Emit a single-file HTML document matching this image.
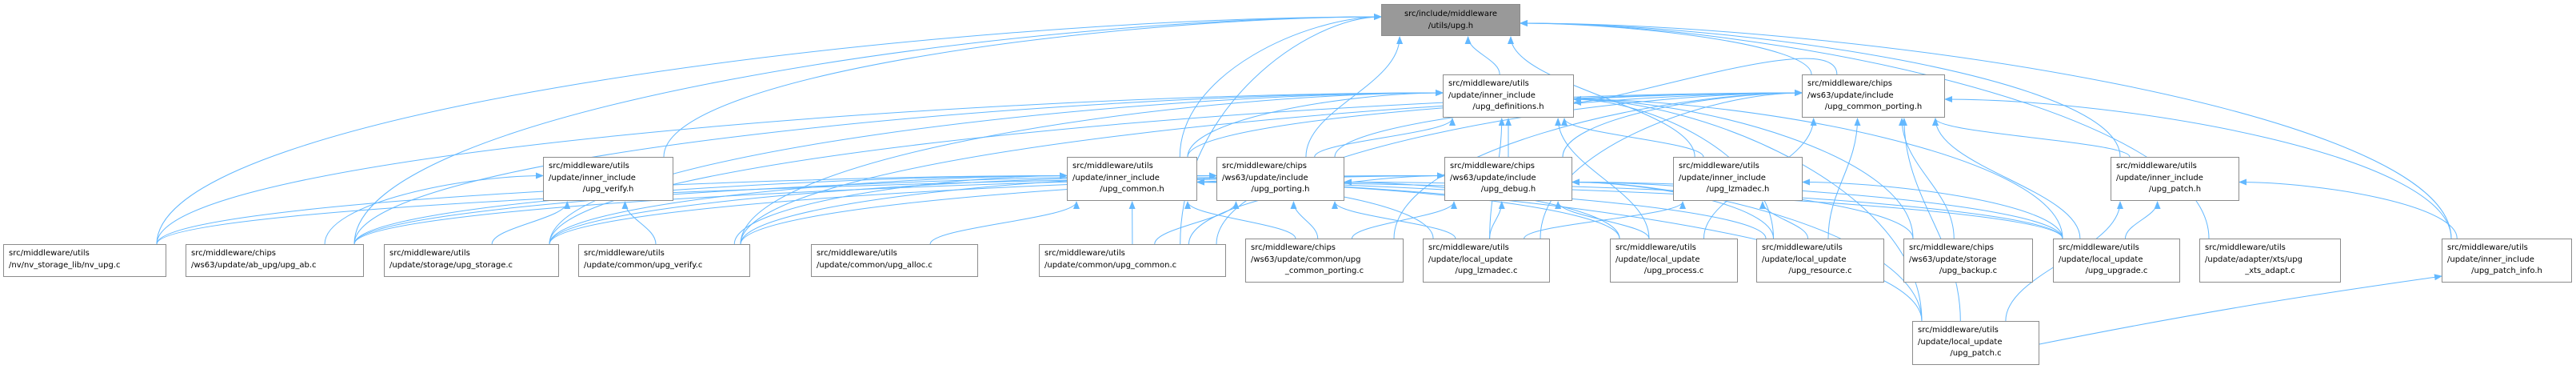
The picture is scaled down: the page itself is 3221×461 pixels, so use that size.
<!DOCTYPE html>
<html><head><meta charset="utf-8"><style>
html,body{margin:0;padding:0;background:#fff;}
#wrap{position:relative;width:3221px;height:461px;overflow:hidden;}
svg{position:absolute;left:0;top:0;}
.n{position:absolute;box-sizing:border-box;border:1px solid #8c8c8c;background:#fff;font-family:"DejaVu Sans","Liberation Sans",sans-serif;font-size:10px;line-height:14.6px;color:#000;padding:4px 6px 0 6px;white-space:nowrap;}
.n div{text-align:left;}
.n div.c{text-align:center;}
.g{background:#999;}
</style></head><body><div id="wrap">
<svg id="s" width="3221" height="461" xmlns="http://www.w3.org/2000/svg">
<defs><marker id="a" markerWidth="10" markerHeight="8" refX="9" refY="4" orient="auto" markerUnits="userSpaceOnUse"><path d="M0,0 L10,4 L0,8 z" fill="#63b8ff"/></marker></defs>
<g id="e" fill="none" stroke="#63b8ff" stroke-width="1"></g>
</svg>
<div class="n g" style="left:1727px;top:5px;width:174px;height:40px;padding-top:5px"><div class="c">src/include/middleware</div><div class="c">/utils/upg.h</div></div>
<div class="n" style="left:1804px;top:93px;width:164px;height:54px"><div>src/middleware/utils</div><div>/update/inner_include</div><div class="c">/upg_definitions.h</div></div>
<div class="n" style="left:2253px;top:93px;width:179px;height:54px"><div>src/middleware/chips</div><div>/ws63/update/include</div><div class="c">/upg_common_porting.h</div></div>
<div class="n" style="left:679px;top:196px;width:163px;height:55px"><div>src/middleware/utils</div><div>/update/inner_include</div><div class="c">/upg_verify.h</div></div>
<div class="n" style="left:1334px;top:196px;width:163px;height:55px"><div>src/middleware/utils</div><div>/update/inner_include</div><div class="c">/upg_common.h</div></div>
<div class="n" style="left:1521px;top:196px;width:160px;height:55px"><div>src/middleware/chips</div><div>/ws63/update/include</div><div class="c">/upg_porting.h</div></div>
<div class="n" style="left:1806px;top:196px;width:160px;height:55px"><div>src/middleware/chips</div><div>/ws63/update/include</div><div class="c">/upg_debug.h</div></div>
<div class="n" style="left:2092px;top:196px;width:162px;height:55px"><div>src/middleware/utils</div><div>/update/inner_include</div><div class="c">/upg_lzmadec.h</div></div>
<div class="n" style="left:2639px;top:196px;width:161px;height:55px"><div>src/middleware/utils</div><div>/update/inner_include</div><div class="c">/upg_patch.h</div></div>
<div class="n" style="left:4px;top:305px;width:204px;height:41px"><div>src/middleware/utils</div><div>/nv/nv_storage_lib/nv_upg.c</div></div>
<div class="n" style="left:232px;top:305px;width:223px;height:41px"><div>src/middleware/chips</div><div>/ws63/update/ab_upg/upg_ab.c</div></div>
<div class="n" style="left:480px;top:305px;width:219px;height:41px"><div>src/middleware/utils</div><div>/update/storage/upg_storage.c</div></div>
<div class="n" style="left:723px;top:305px;width:215px;height:41px"><div>src/middleware/utils</div><div>/update/common/upg_verify.c</div></div>
<div class="n" style="left:1014px;top:305px;width:209px;height:41px"><div>src/middleware/utils</div><div>/update/common/upg_alloc.c</div></div>
<div class="n" style="left:1299px;top:305px;width:234px;height:41px"><div>src/middleware/utils</div><div>/update/common/upg_common.c</div></div>
<div class="n" style="left:1557px;top:298px;width:198px;height:55px"><div>src/middleware/chips</div><div>/ws63/update/common/upg</div><div class="c">_common_porting.c</div></div>
<div class="n" style="left:1779px;top:298px;width:159px;height:55px"><div>src/middleware/utils</div><div>/update/local_update</div><div class="c">/upg_lzmadec.c</div></div>
<div class="n" style="left:2013px;top:298px;width:160px;height:55px"><div>src/middleware/utils</div><div>/update/local_update</div><div class="c">/upg_process.c</div></div>
<div class="n" style="left:2196px;top:298px;width:160px;height:55px"><div>src/middleware/utils</div><div>/update/local_update</div><div class="c">/upg_resource.c</div></div>
<div class="n" style="left:2380px;top:298px;width:162px;height:55px"><div>src/middleware/chips</div><div>/ws63/update/storage</div><div class="c">/upg_backup.c</div></div>
<div class="n" style="left:2567px;top:298px;width:159px;height:55px"><div>src/middleware/utils</div><div>/update/local_update</div><div class="c">/upg_upgrade.c</div></div>
<div class="n" style="left:2750px;top:298px;width:177px;height:55px"><div>src/middleware/utils</div><div>/update/adapter/xts/upg</div><div class="c">_xts_adapt.c</div></div>
<div class="n" style="left:3053px;top:298px;width:163px;height:55px"><div>src/middleware/utils</div><div>/update/inner_include</div><div class="c">/upg_patch_info.h</div></div>
<div class="n" style="left:2391px;top:401px;width:159px;height:55px"><div>src/middleware/utils</div><div>/update/local_update</div><div class="c">/upg_patch.c</div></div>
</div>
<script>
var N={upg:[1727,1901,5,45],defs:[1804,1968,93,147],cph:[2253,2432,93,147],vh:[679,842,196,251],ch:[1334,1497,196,251],ph:[1521,1681,196,251],dh:[1806,1966,196,251],lh:[2092,2254,196,251],pth:[2639,2800,196,251],
nv:[4,208,305,346],ab:[232,455,305,346],st:[480,699,305,346],vc:[723,938,305,346],al:[1014,1223,305,346],cc:[1299,1533,305,346],cpc:[1557,1755,298,353],lc:[1779,1938,298,353],pr:[2013,2173,298,353],rs:[2196,2356,298,353],bk:[2380,2542,298,353],ug:[2567,2726,298,353],xt:[2750,2927,298,353],pi:[3053,3216,298,353],pc:[2391,2550,401,456]};
var E={upg:"defs ch ph lh cph pth vh nv ab cc xt pi",
defs:"ch ph dh lh cph nv ab st vc pr rs ug bk lc pc",
cph:"ch ph dh pth st vc cc pr rs bk ug pc lc cpc pi",
ch:"nv ab st vc al cc cpc lc pr rs ug pc",
ph:"ab st vc cc cpc pr lc ug",
dh:"nv ab st vc cc cpc lc pr rs ug pc bk",
lh:"lc rs ug",vh:"ab st vc",pth:"ug pc pi",pi:"pc"};
var g=document.getElementById('e'),h='';
function cl(v,a,b){return Math.max(a,Math.min(b,v));}
for(var t in E){E[t].split(' ').forEach(function(s){var S=N[s],T=N[t];
var scx=(S[0]+S[1])/2,tcx=(T[0]+T[1])/2;
var sx,sy,tx,ty,d;
if(t=='pi'&&s=='pc'){sx=S[1];sy=430;tx=T[0];ty=345;h+='<path d="M'+sx+','+sy+' C2800,380 2950,360 '+tx+','+ty+'" marker-end="url(#a)"/>';return;}
if(T[3]>S[2]-5){sy=S[2];sx=cl(scx+(tcx-scx)*0.1,S[0]+10,S[1]-10);tx=tcx<scx?T[1]:T[0];ty=(T[2]+T[3])/2+8;
h+='<path d="M'+sx+','+sy+' C'+sx+','+(sy-60)+' '+(tx+(tcx<scx?60:-60))+','+(ty)+' '+tx+','+ty+'" marker-end="url(#a)"/>';return;}
sx=cl(scx+(tcx-scx)*0.15,S[0]+12,S[1]-12);sy=S[2];
tx=cl(tcx+(scx-tcx)*0.3,T[0]+12,T[1]-12);ty=T[3]+1;
var dx=Math.abs(tx-sx);
if(dx>250){tx=scx<tcx?T[0]:T[1];ty=(T[2]+T[3])/2+(scx<tcx?-4:4);
d='M'+sx+','+sy+' C'+sx+','+(sy-(sy-ty)*0.6)+' '+(tx+(scx<tcx?-dx*0.35:dx*0.35))+','+ty+' '+tx+','+ty;}
else{var k=(sy-ty)*0.4;d='M'+sx+','+sy+' C'+sx+','+(sy-k)+' '+tx+','+(ty+k)+' '+tx+','+ty;}
h+='<path d="'+d+'" marker-end="url(#a)"/>';});}
g.innerHTML=h;
</script>
</body></html>
